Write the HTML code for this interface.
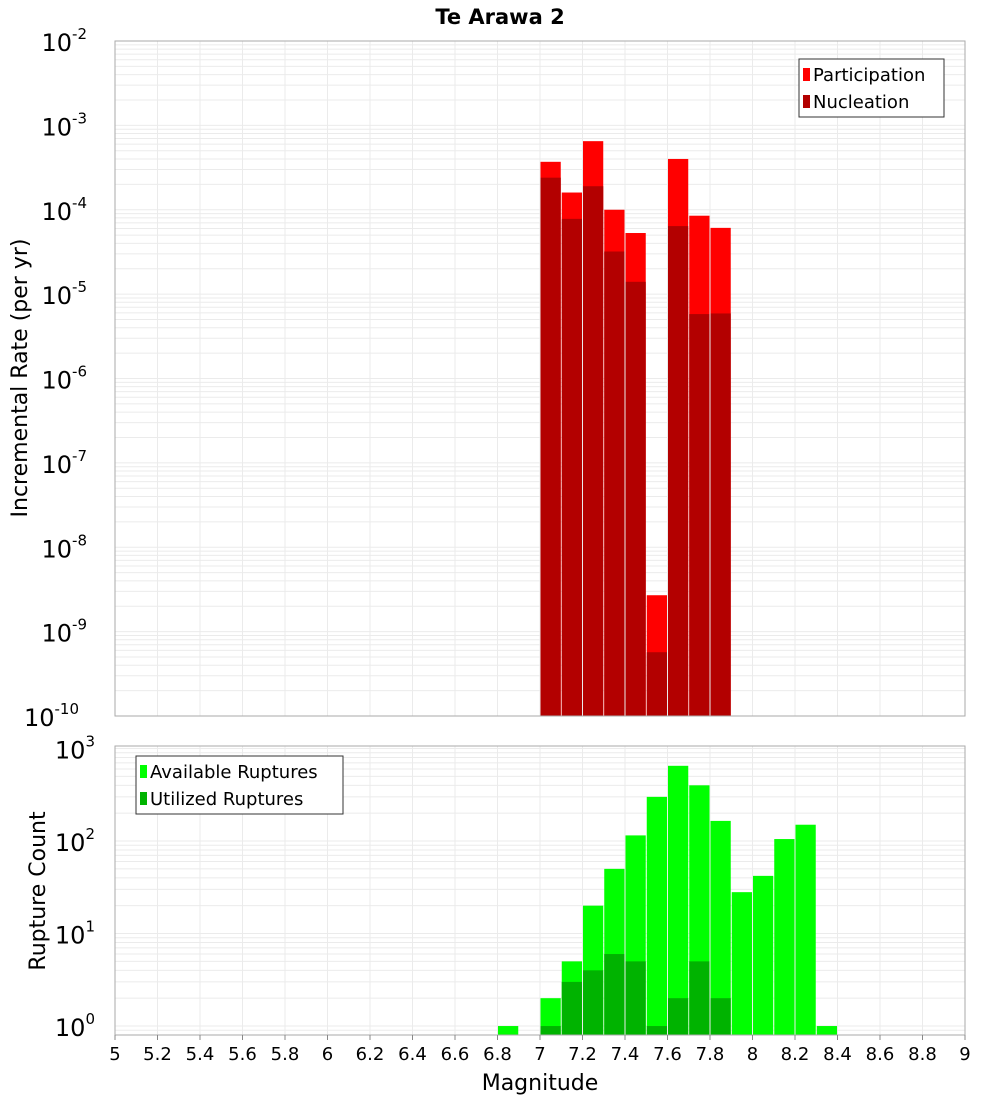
<!DOCTYPE html>
<html><head><meta charset="utf-8"><style>
body{margin:0;background:#fff;font-family:"DejaVu Sans","Liberation Sans",sans-serif;}
svg text{font-family:"DejaVu Sans","Liberation Sans",sans-serif;}
</style></head><body>
<svg id="c" width="1000" height="1100" xmlns="http://www.w3.org/2000/svg">
<text x="500" y="24" text-anchor="middle" font-size="21" font-weight="bold">Te Arawa 2</text>
<g id="top"></g>
<g id="bot"></g>
<text transform="translate(27,378) rotate(-90)" text-anchor="middle" font-size="22">Incremental Rate (per yr)</text>
<text transform="translate(45,891) rotate(-90)" text-anchor="middle" font-size="22">Rupture Count</text>
<text x="540" y="1090" text-anchor="middle" font-size="22">Magnitude</text>
</svg>
<script>
const bins=[7.05,7.15,7.25,7.35,7.45,7.55,7.65,7.75,7.85];
const participation=[3.7e-4,1.6e-4,6.5e-4,1.0e-4,5.3e-5,2.7e-9,4.0e-4,8.5e-5,6.1e-5];
const nucleation=[2.4e-4,7.8e-5,1.9e-4,3.2e-5,1.4e-5,5.7e-10,6.4e-5,5.8e-6,5.9e-6];
const countBins=[6.85,7.05,7.15,7.25,7.35,7.45,7.55,7.65,7.75,7.85,7.95,8.05,8.15,8.25,8.35];
const available=[1,2,5,20,50,115,300,650,400,165,28,42,105,150,1];
const utilBins=[7.05,7.15,7.25,7.35,7.45,7.55,7.65,7.75,7.85];
const utilized=[1,3,4,6,5,1,2,5,2];
const xTicks=[5,5.2,5.4,5.6,5.8,6,6.2,6.4,6.6,6.8,7,7.2,7.4,7.6,7.8,8,8.2,8.4,8.6,8.8,9];
const topExp=[-10,-9,-8,-7,-6,-5,-4,-3,-2];
const botExp=[0,1,2,3];

const NS="http://www.w3.org/2000/svg";
const X0=115,X1=965;
const xs=v=>X0+(v-5)/4*(X1-X0);
function el(p,t,a){const e=document.createElementNS(NS,t);for(const k in a)e.setAttribute(k,a[k]);p.appendChild(e);return e;}
function panel(g,top,bottom,lmin,lmax,name){
  const ys=v=>bottom-(Math.log10(v)-lmin)/(lmax-lmin)*(bottom-top);
  for(let d=Math.floor(lmin);d<Math.ceil(lmax);d++)for(let m=1;m<10;m++){
    const v=m*Math.pow(10,d);const y=ys(v);if(y<top-0.1||y>bottom+0.1)continue;
    const l=el(g,'line',{x1:X0,x2:X1,y1:y,y2:y,stroke:'#ebebeb','stroke-width':1});
    }
  xTicks.forEach(t=>{const l=el(g,'line',{x1:xs(t),x2:xs(t),y1:top,y2:bottom,stroke:'#ebebeb'});
    });
  return ys;
}
function bar(g,c,v,ys,bottom,fill,name){
  const x=xs(c-0.05),w=xs(c+0.05)-x;const y=ys(v);
  const r=el(g,'rect',{x:x+0.5,y:y,width:w-1,height:bottom-y,fill:fill});
  
}
function ylab(g,e,y,name){
  const t=el(g,'text',{x:103,y:y+10,'text-anchor':'end','font-size':24});
  t.textContent='10';
  const s=el(t,'tspan',{dy:-12,'font-size':15});s.textContent=String(e);
  
  t.setAttribute('dx','-0');
  t.setAttribute('x',(103-(String(e).length*8)));
}
// top
const T=document.getElementById('top');const tT=41,tB=716;
const ysT=panel(T,tT,tB,-10,-2,'top');
bins.forEach((c,i)=>bar(T,c,participation[i],ysT,tB,'#ff0000','participation-bar'));
bins.forEach((c,i)=>bar(T,c,nucleation[i],ysT,tB,'#b30000','nucleation-bar'));
let fr=el(T,'rect',{x:X0,y:tT,width:X1-X0,height:tB-tT,fill:'none',stroke:'#aaa'});

topExp.forEach(e=>ylab(T,e,ysT(Math.pow(10,e)),'top-y-tick'));
// bottom
const B=document.getElementById('bot');const bT=746,bB=1035;
const ysB=panel(B,bT,bB,Math.log10(0.8),3+ (1026-746)/92.5-3,'bot');
countBins.forEach((c,i)=>bar(B,c,available[i],ysB,bB,'#00ff00','available-bar'));
utilBins.forEach((c,i)=>bar(B,c,utilized[i],ysB,bB,'#00b300','utilized-bar'));
fr=el(B,'rect',{x:X0,y:bT,width:X1-X0,height:bB-bT,fill:'none',stroke:'#aaa'});

botExp.forEach(e=>ylab(B,e,ysB(Math.pow(10,e)),'bottom-y-tick'));
xTicks.forEach(t=>{const l=el(B,'line',{x1:xs(t),x2:xs(t),y1:bB,y2:bB+5,stroke:'#888'});
  
  const tx=el(B,'text',{x:xs(t),y:bB+25,'text-anchor':'middle','font-size':18});tx.textContent=String(t);
  });
// legends
function legend(g,x,y,w,items,name){
  const r=el(g,'rect',{x:x,y:y,width:w,height:58,fill:'#fff',stroke:'#333'});
  
  items.forEach((it,i)=>{const s=el(g,'rect',{x:x+4,y:y+9+i*27,width:7,height:13,fill:it[1]});
    
    const t=el(g,'text',{x:x+14,y:y+22+i*27,'font-size':18});t.textContent=it[0];
    });
}
legend(T,799,59,145,[['Participation','#ff0000'],['Nucleation','#b30000']],'top-legend');
legend(B,136,756,207,[['Available Ruptures','#00ff00'],['Utilized Ruptures','#00b300']],'bottom-legend');
</script>
</body></html>
